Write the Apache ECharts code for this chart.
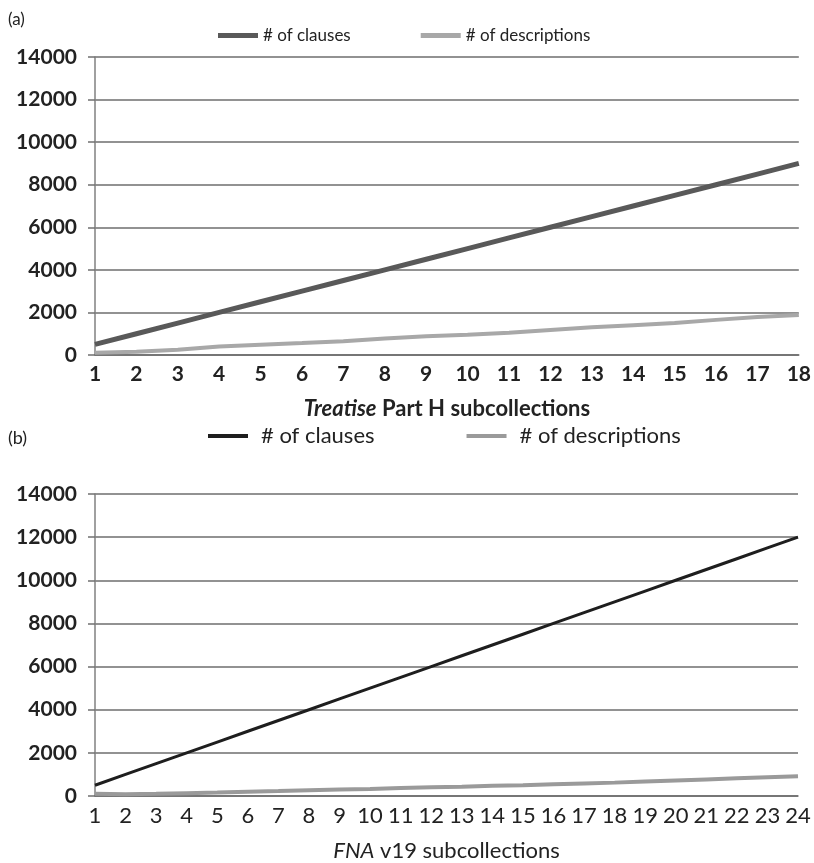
<!DOCTYPE html>
<html>
<head>
<meta charset="utf-8">
<script src="https://cdn.jsdelivr.net/npm/echarts@6/dist/echarts.min.js"></script>
<style>
  html, body { margin: 0; padding: 0; background: #fff; }
  #chart { width: 814px; height: 863px; }
</style>
</head>
<body>
<div id="chart"></div>
<script>
// Panel (a): Treatise Part H subcollections
const catsA = ['1','2','3','4','5','6','7','8','9','10','11','12','13','14','15','16','17','18'];
const clausesA = [500, 1000, 1500, 2000, 2500, 3000, 3500, 4000, 4500, 5000, 5500, 6000, 6500, 7000, 7500, 8000, 8500, 9000];
const descriptionsA = [100, 150, 250, 400, 480, 560, 650, 780, 880, 950, 1050, 1180, 1300, 1400, 1500, 1650, 1780, 1880];

// Panel (b): FNA v19 subcollections
const catsB = ['1','2','3','4','5','6','7','8','9','10','11','12','13','14','15','16','17','18','19','20','21','22','23','24'];
const clausesB = [500, 1000, 1500, 2000, 2500, 3000, 3500, 4000, 4500, 5000, 5500, 6000, 6500, 7000, 7500, 8000, 8500, 9000, 9500, 10000, 10500, 11000, 11500, 12000];
const descriptionsB = [100, 80, 100, 130, 160, 200, 230, 270, 300, 330, 370, 400, 430, 470, 500, 540, 580, 620, 670, 720, 770, 820, 870, 920];

const yTicks = { min: 0, max: 14000, interval: 2000 };

const colA = { clauses: '#595959', desc: '#a8a8a8' };
const colB = { clauses: '#1e1e1e', desc: '#9a9a9a' };
const FONT = 'Lato';

function yAxis(gridIndex) {
  return {
    type: 'value', gridIndex,
    min: yTicks.min, max: yTicks.max, interval: yTicks.interval,
    axisLine: { show: true, lineStyle: { color: '#808080', width: 1.5 } },
    axisTick: { show: true, length: 7, lineStyle: { color: '#707070', width: 1.5 } },
    axisLabel: { margin: 18, color: '#222', fontFamily: FONT, fontSize: 21, fontWeight: 'bold',
      formatter: v => String(v) },
    splitLine: { show: true, lineStyle: { color: '#6e6e6e', width: 1.5 } }
  };
}

function xAxis(gridIndex, cats, name, nameStyle, labelStyle, nameGap) {
  return {
    type: 'category', gridIndex, data: cats, boundaryGap: false,
    axisLine: { show: true, lineStyle: { color: '#6e6e6e', width: 1.5 } },
    axisTick: { show: false },
    axisLabel: Object.assign({ interval: 0, margin: 9, color: '#222', fontFamily: FONT }, labelStyle),
    name, nameLocation: 'middle', nameGap,
    nameTextStyle: nameStyle
  };
}

const chart = echarts.init(document.getElementById('chart'), null, { renderer: 'canvas' });

chart.setOption({
  backgroundColor: '#fff',
  animation: false,
  title: [
    { text: '(a)', left: 3, top: 6, textStyle: { fontFamily: FONT, fontSize: 17, fontWeight: 'normal', color: '#222' } },
    { text: '(b)', left: 3, top: 424, textStyle: { fontFamily: FONT, fontSize: 18, fontWeight: 'normal', color: '#222' } }
  ],
  legend: [
    {
      left: 213, top: 22, itemWidth: 40, itemHeight: 5, itemGap: 70, icon: 'rect',
      textStyle: { fontFamily: FONT, fontSize: 17, color: '#222' },
      data: [
        { name: '# of clauses', itemStyle: { color: colA.clauses } },
        { name: '# of descriptions', itemStyle: { color: colA.desc } }
      ],
      selectedMode: false
    },
    {
      left: 203, top: 420, itemWidth: 40, itemHeight: 4, itemGap: 92, icon: 'rect',
      textStyle: { fontFamily: FONT, fontSize: 22, color: '#222', padding: [0, 0, 0, 8] },
      data: [
        { name: '# of clauses', itemStyle: { color: colB.clauses } },
        { name: '# of descriptions', itemStyle: { color: colB.desc } }
      ],
      selectedMode: false
    }
  ],
  grid: [
    { left: 95, right: 14, top: 57, height: 298 },
    { left: 95, right: 16, top: 494, height: 304 }
  ],
  xAxis: [
    xAxis(0, catsA, '{i|Treatise} Part H subcollections',
      { fontFamily: FONT, fontSize: 22, fontWeight: 'bold', color: '#222',
        rich: { i: { fontFamily: FONT, fontSize: 22, fontWeight: 'bold', fontStyle: 'italic', color: '#222' } } },
      { fontSize: 21, fontWeight: 'bold' }, 43),
    xAxis(1, catsB, '{i|FNA} v19 subcollections',
      { fontFamily: FONT, fontSize: 22, color: '#222',
        rich: { i: { fontFamily: FONT, fontSize: 22, fontStyle: 'italic', color: '#222' } } },
      { fontSize: 22, fontWeight: 'normal' }, 44)
  ],
  yAxis: [yAxis(0), yAxis(1)],
  series: [
    { name: '# of clauses', type: 'line', xAxisIndex: 0, yAxisIndex: 0, data: clausesA,
      symbol: 'none', lineStyle: { color: colA.clauses, width: 5 }, itemStyle: { color: colA.clauses }, z: 3 },
    { name: '# of descriptions', type: 'line', xAxisIndex: 0, yAxisIndex: 0, data: descriptionsA,
      symbol: 'none', lineStyle: { color: colA.desc, width: 4 }, itemStyle: { color: colA.desc }, z: 2 },
    { name: '# of clauses', type: 'line', xAxisIndex: 1, yAxisIndex: 1, data: clausesB,
      symbol: 'none', lineStyle: { color: colB.clauses, width: 3 }, itemStyle: { color: colB.clauses }, z: 3 },
    { name: '# of descriptions', type: 'line', xAxisIndex: 1, yAxisIndex: 1, data: descriptionsB,
      symbol: 'none', lineStyle: { color: colB.desc, width: 4 }, itemStyle: { color: colB.desc }, z: 2 }
  ]
});
</script>
</body>
</html>
